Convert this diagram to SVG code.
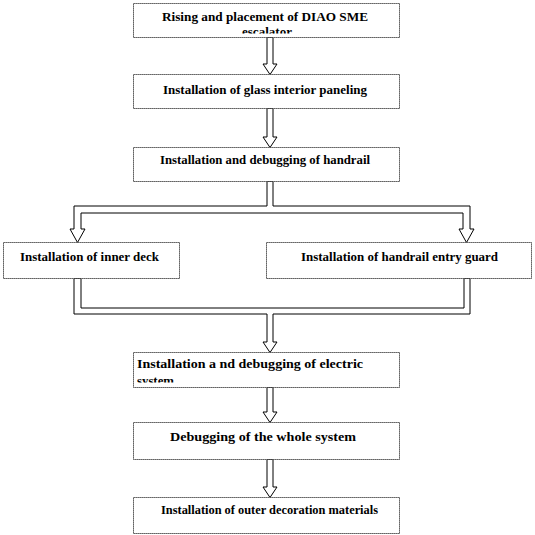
<svg xmlns="http://www.w3.org/2000/svg" width="535" height="535" viewBox="0 0 535 535">
<style>
.box{fill:#fff;stroke:#222;stroke-width:1;stroke-dasharray:1.2 0.8}
.conn{fill:#fff;stroke:#000;stroke-width:1;stroke-linejoin:miter}
.t{font-family:'Liberation Serif','Times New Roman',Times,serif;font-weight:700;font-size:12px;fill:#000}
</style>
<defs>
<clipPath id="c1"><rect x="134" y="4" width="265" height="29.5"/></clipPath>
<clipPath id="c6"><rect x="134" y="353" width="265" height="29.5"/></clipPath>
</defs>
<rect width="535" height="535" fill="#fff"/>
<g id="connectors">
<polygon class="conn" points="267,37.5 267,64 263,64 270,74.5 277,64 273,64 273,37.5"/>
<polygon class="conn" points="267,108.5 267,137 263,137 270,147.5 277,137 273,137 273,108.5"/>
<polygon class="conn" points="267,181.5 267,206 74,206 74,229 70,229 77.5,242.5 85,229 81,229 81,213 463,213 463,229 459,229 466.5,242.5 474,229 470,229 470,206 273,206 273,181.5"/>
<polygon class="conn" points="74,278.5 74,314 267,314 267,342 263,342 270,352.5 277,342 273,342 273,314 470,314 470,278.5 464,278.5 464,308 81,308 81,278.5"/>
<polygon class="conn" points="267,387.5 267,412 263,412 270,422.5 277,412 273,412 273,387.5"/>
<polygon class="conn" points="267,459.5 267,487 263,487 270,497.5 277,487 273,487 273,459.5"/>
</g>
<g id="n1">
<rect class="box" x="133.5" y="3.5" width="266" height="34"/>
<text class="t" font-family="Liberation Serif" x="162" y="21" textLength="206" lengthAdjust="spacingAndGlyphs">Rising and placement of DIAO SME</text>
<text class="t" font-family="Liberation Serif" x="242" y="36" textLength="50" lengthAdjust="spacingAndGlyphs" clip-path="url(#c1)">escalator</text>
</g>
<g id="n2">
<rect class="box" x="133.5" y="74.5" width="266" height="34"/>
<text class="t" font-family="Liberation Serif" x="163" y="94" textLength="204" lengthAdjust="spacingAndGlyphs">Installation of glass interior paneling</text>
</g>
<g id="n3">
<rect class="box" x="133.5" y="147.5" width="266" height="34"/>
<text class="t" font-family="Liberation Serif" x="160" y="164" textLength="210" lengthAdjust="spacingAndGlyphs">Installation and debugging of handrail</text>
</g>
<g id="n4">
<rect class="box" x="3.5" y="242.5" width="176" height="36"/>
<text class="t" font-family="Liberation Serif" x="20" y="261" textLength="139" lengthAdjust="spacingAndGlyphs">Installation of inner deck</text>
</g>
<g id="n5">
<rect class="box" x="266.5" y="242.5" width="265" height="36"/>
<text class="t" font-family="Liberation Serif" x="301" y="261" textLength="197" lengthAdjust="spacingAndGlyphs">Installation of handrail entry  guard</text>
</g>
<g id="n6">
<rect class="box" x="133.5" y="352.5" width="266" height="35"/>
<text class="t" font-family="Liberation Serif" x="137" y="368" textLength="226" lengthAdjust="spacingAndGlyphs">Installation a  nd debugging of electric</text>
<text class="t" font-family="Liberation Serif" x="137" y="385" textLength="37" lengthAdjust="spacingAndGlyphs" clip-path="url(#c6)">system</text>
</g>
<g id="n7">
<rect class="box" x="133.5" y="422.5" width="266" height="37"/>
<text class="t" font-family="Liberation Serif" x="170" y="441" textLength="186" lengthAdjust="spacingAndGlyphs">Debugging of the whole system</text>
</g>
<g id="n8">
<rect class="box" x="133.5" y="497.5" width="266" height="36"/>
<text class="t" font-family="Liberation Serif" x="161" y="514" textLength="217" lengthAdjust="spacingAndGlyphs">Installation of outer decoration materials</text>
</g>
</svg>
